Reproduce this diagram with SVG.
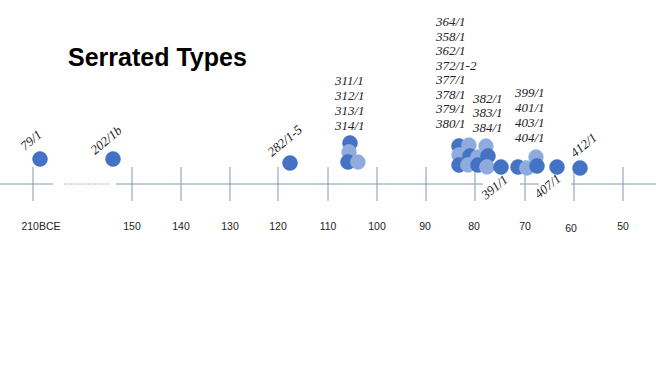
<svg xmlns="http://www.w3.org/2000/svg" width="656" height="369" viewBox="0 0 656 369">
<style>
.ax{stroke:#8497B0;stroke-width:1;fill:none}
.tk{stroke:#8497B0;stroke-width:1}
.dt{stroke:#A9B6C8;stroke-width:1;stroke-dasharray:2 1}
.yl{font-family:"Liberation Sans",Arial,sans-serif;font-size:10.5px;fill:#222;text-anchor:middle}
.lb{font-family:"Liberation Serif","Times New Roman",serif;font-style:italic;font-size:13px;fill:#222}
.d{fill:#4472C4;stroke:#3F6AB8;stroke-width:0.5}
.l{fill:#8FAADC;stroke:#A9BFE6;stroke-width:0.5}
.title{font-family:"Liberation Sans",Arial,sans-serif;font-weight:bold;font-size:25px;fill:#000}
</style>
<rect width="656" height="369" fill="#fff"/>
<text class="title" x="68" y="66">Serrated Types</text>
<g id="connectors">
<line class="ax" x1="0" y1="184" x2="53" y2="184"/>
<line class="dt" x1="64" y1="184" x2="110" y2="184"/>
<line class="ax" x1="116" y1="184" x2="483" y2="184"/>
<line class="ax" x1="520" y1="184" x2="539" y2="184"/>
<line class="ax" x1="571" y1="184" x2="656" y2="184"/>
<line class="tk" x1="33" y1="167" x2="33" y2="201"/>
<line class="tk" x1="132" y1="167" x2="132" y2="201"/>
<line class="tk" x1="181" y1="167" x2="181" y2="201"/>
<line class="tk" x1="230" y1="167" x2="230" y2="201"/>
<line class="tk" x1="278" y1="167" x2="278" y2="201"/>
<line class="tk" x1="328" y1="167" x2="328" y2="201"/>
<line class="tk" x1="377" y1="167" x2="377" y2="201"/>
<line class="tk" x1="426" y1="167" x2="426" y2="201"/>
<line class="tk" x1="475" y1="160" x2="475" y2="201"/>
<line class="tk" x1="525" y1="160" x2="525" y2="201"/>
<line class="tk" x1="574" y1="167" x2="574" y2="201"/>
<line class="tk" x1="623" y1="167" x2="623" y2="201"/>
</g>
<g id="axis-labels">
<text class="yl" x="41" y="230">210BCE</text>
<text class="yl" x="132" y="230">150</text>
<text class="yl" x="181" y="230">140</text>
<text class="yl" x="230" y="230">130</text>
<text class="yl" x="278" y="230">120</text>
<text class="yl" x="328" y="230">110</text>
<text class="yl" x="377" y="230">100</text>
<text class="yl" x="425" y="230">90</text>
<text class="yl" x="474" y="230">80</text>
<text class="yl" x="525" y="230">70</text>
<text class="yl" x="571" y="232">60</text>
<text class="yl" x="623" y="230">50</text>
</g>
<g id="n79">
<circle class="d" cx="40" cy="159" r="7.5"/>
<text class="lb" transform="translate(25,151) rotate(-40)">79/1</text>
</g>
<g id="n202">
<circle class="d" cx="113" cy="159" r="7.5"/>
<text class="lb" transform="translate(95,155) rotate(-40)">202/1b</text>
</g>
<g id="n282">
<circle class="d" cx="290" cy="163" r="7.5"/>
<text class="lb" transform="translate(272,157) rotate(-40)">282/1-5</text>
</g>
<g id="n311">
<circle class="d" cx="350" cy="143" r="7.5"/>
<circle class="l" cx="349" cy="152" r="7.5"/>
<circle class="d" cx="348" cy="162" r="7.5"/>
<circle class="l" cx="358" cy="162" r="7.5"/>
<text class="lb" x="335" y="85">311/1</text>
<text class="lb" x="335" y="100">312/1</text>
<text class="lb" x="335" y="115">313/1</text>
<text class="lb" x="335" y="130">314/1</text>
</g>
<g id="n364">
<circle class="d" cx="459" cy="146" r="7.5"/>
<circle class="l" cx="469" cy="145" r="7.5"/>
<circle class="l" cx="486" cy="146" r="7.5"/>
<circle class="l" cx="459" cy="155" r="7.5"/>
<circle class="d" cx="470" cy="156" r="7.5"/>
<circle class="l" cx="478" cy="157" r="7.5"/>
<circle class="d" cx="488" cy="156" r="7.5"/>
<circle class="d" cx="459" cy="165" r="7.5"/>
<circle class="l" cx="468" cy="165" r="7.5"/>
<circle class="d" cx="478" cy="165" r="7.5"/>
<circle class="l" cx="487" cy="167" r="7.5"/>
<text class="lb" x="436" y="26">364/1</text>
<text class="lb" x="436" y="41">358/1</text>
<text class="lb" x="436" y="55">362/1</text>
<text class="lb" x="436" y="70">372/1-2</text>
<text class="lb" x="436" y="84">377/1</text>
<text class="lb" x="436" y="99">378/1</text>
<text class="lb" x="436" y="113">379/1</text>
<text class="lb" x="436" y="128">380/1</text>
<text class="lb" x="473" y="103">382/1</text>
<text class="lb" x="473" y="117">383/1</text>
<text class="lb" x="473" y="132">384/1</text>
</g>
<g id="n391">
<circle class="d" cx="501" cy="167" r="7.5"/>
<text class="lb" transform="translate(486,200) rotate(-40)">391/1</text>
</g>
<g id="n399">
<circle class="d" cx="518" cy="167" r="7.5"/>
<circle class="l" cx="527" cy="168" r="7.5"/>
<circle class="l" cx="536" cy="157" r="7.5"/>
<circle class="d" cx="537" cy="166" r="7.5"/>
<text class="lb" x="515" y="97">399/1</text>
<text class="lb" x="515" y="112">401/1</text>
<text class="lb" x="515" y="127">403/1</text>
<text class="lb" x="515" y="142">404/1</text>
</g>
<g id="n407">
<circle class="d" cx="557" cy="167" r="7.5"/>
<text class="lb" transform="translate(539,199) rotate(-40)">407/1</text>
</g>
<g id="n412">
<circle class="d" cx="580" cy="168" r="7.5"/>
<text class="lb" transform="translate(575,158) rotate(-40)">412/1</text>
</g>
</svg>
